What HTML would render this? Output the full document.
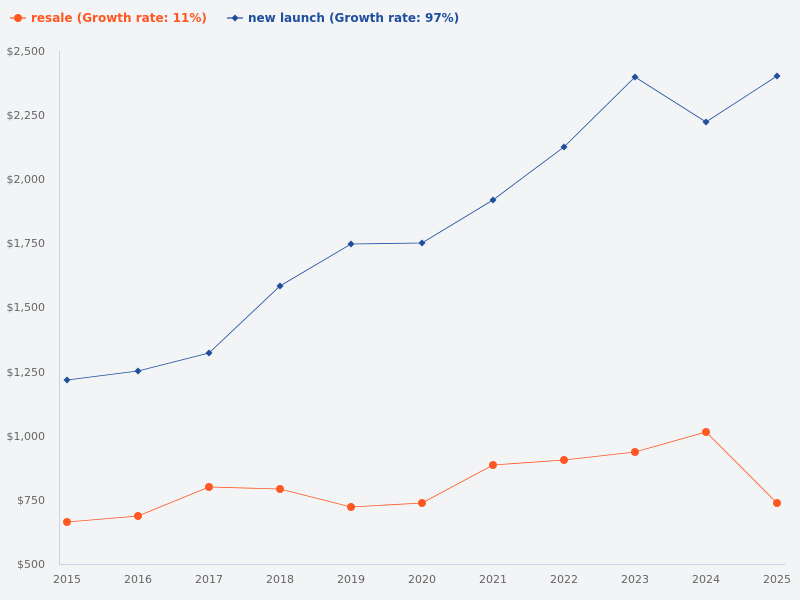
<!DOCTYPE html>
<html><head><meta charset="utf-8"><style>
html,body{margin:0;padding:0;background:#f2f4f6;}
svg{display:block;font-family:"DejaVu Sans","Liberation Sans",sans-serif;}
</style></head><body>
<svg width="800" height="600" viewBox="0 0 800 600">
<rect width="800" height="600" fill="#f2f4f6"/>
<line x1="10" y1="18" x2="26" y2="18" stroke="#ff5722" stroke-width="1.2"/>
<circle cx="18" cy="18" r="4" fill="#ff5722"/>
<text x="31" y="22" font-size="12" font-weight="bold" fill="#ff5722">resale (Growth rate: 11%)</text>
<line x1="227" y1="18" x2="243" y2="18" stroke="#1f4e9e" stroke-width="1.2"/>
<path d="M235 14.5 L238.5 18 L235 21.5 L231.5 18Z" fill="#1f4e9e"/>
<text x="248" y="22" font-size="12" font-weight="bold" fill="#1f4e9e">new launch (Growth rate: 97%)</text>
<g font-size="11" fill="#666" text-anchor="end">
<text x="45" y="55">$2,500</text>
<text x="45" y="119">$2,250</text>
<text x="45" y="183">$2,000</text>
<text x="45" y="247">$1,750</text>
<text x="45" y="311">$1,500</text>
<text x="45" y="376">$1,250</text>
<text x="45" y="440">$1,000</text>
<text x="45" y="504">$750</text>
<text x="45" y="568">$500</text>
</g>
<line x1="59.5" y1="51" x2="59.5" y2="564" stroke="#c8d4e6" stroke-width="1"/>
<line x1="59" y1="564.5" x2="785" y2="564.5" stroke="#c8d4e6" stroke-width="1"/>
<g font-size="11" fill="#666" text-anchor="middle">
<text x="67" y="583">2015</text><text x="138" y="583">2016</text><text x="209" y="583">2017</text>
<text x="280" y="583">2018</text><text x="351" y="583">2019</text><text x="422" y="583">2020</text>
<text x="493" y="583">2021</text><text x="564" y="583">2022</text><text x="635" y="583">2023</text>
<text x="706" y="583">2024</text><text x="777" y="583">2025</text>
</g>
<polyline fill="none" stroke="#1f4e9e" stroke-width="0.8" points="67,380 138,371 209,353 280,286 351,244 422,243 493,200 564,147 635,77 706,122 777,76"/>
<g fill="#1f4e9e">
<path d="M67 376.5l3.5 3.5-3.5 3.5-3.5-3.5z"/><path d="M138 367.5l3.5 3.5-3.5 3.5-3.5-3.5z"/>
<path d="M209 349.5l3.5 3.5-3.5 3.5-3.5-3.5z"/><path d="M280 282.5l3.5 3.5-3.5 3.5-3.5-3.5z"/>
<path d="M351 240.5l3.5 3.5-3.5 3.5-3.5-3.5z"/><path d="M422 239.5l3.5 3.5-3.5 3.5-3.5-3.5z"/>
<path d="M493 196.5l3.5 3.5-3.5 3.5-3.5-3.5z"/><path d="M564 143.5l3.5 3.5-3.5 3.5-3.5-3.5z"/>
<path d="M635 73.5l3.5 3.5-3.5 3.5-3.5-3.5z"/><path d="M706 118.5l3.5 3.5-3.5 3.5-3.5-3.5z"/>
<path d="M777 72.5l3.5 3.5-3.5 3.5-3.5-3.5z"/>
</g>
<polyline fill="none" stroke="#ff5722" stroke-width="0.8" points="67,522 138,516 209,487 280,489 351,507 422,503 493,465 564,460 635,452 706,432 777,503"/>
<g fill="#ff5722">
<circle cx="67" cy="522" r="4"/><circle cx="138" cy="516" r="4"/><circle cx="209" cy="487" r="4"/>
<circle cx="280" cy="489" r="4"/><circle cx="351" cy="507" r="4"/><circle cx="422" cy="503" r="4"/>
<circle cx="493" cy="465" r="4"/><circle cx="564" cy="460" r="4"/><circle cx="635" cy="452" r="4"/>
<circle cx="706" cy="432" r="4"/><circle cx="777" cy="503" r="4"/>
</g>
</svg>
</body></html>
